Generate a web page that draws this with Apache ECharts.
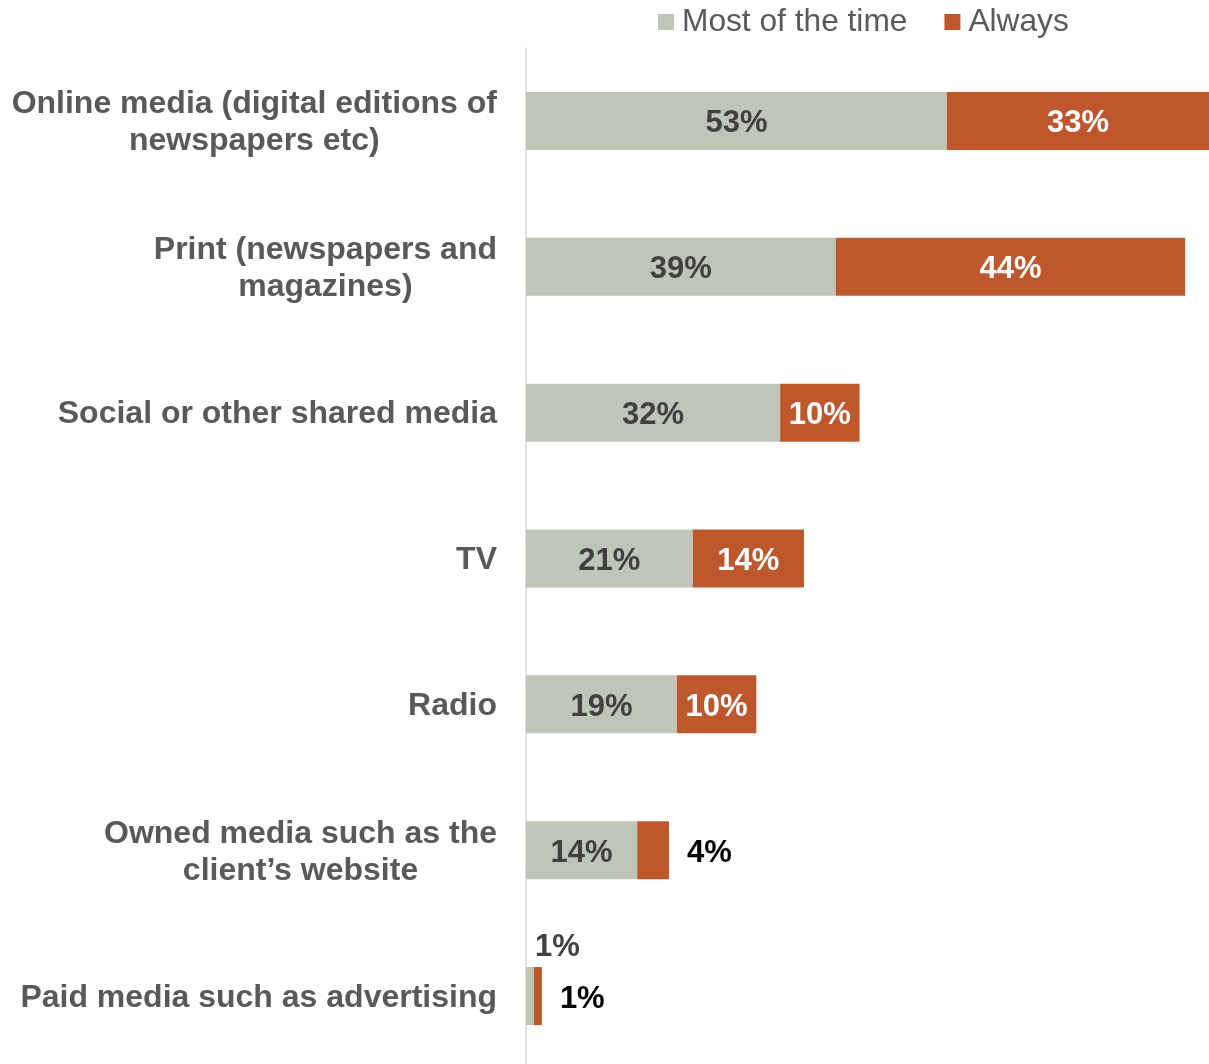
<!DOCTYPE html>
<html>
<head>
<meta charset="utf-8">
<style>
  html, body { margin: 0; padding: 0; background: #ffffff; overflow: hidden; }
  #chart { width: 1209px; height: 1069px; }
</style>
<script src="https://cdn.jsdelivr.net/npm/echarts@6/dist/echarts.min.js"></script>
</head>
<body>
<div id="chart"></div>
<script>
// Media channels, top to bottom
const categories = [
  'Online media (digital editions of\nnewspapers etc)',
  'Print (newspapers and\nmagazines)',
  'Social or other shared media',
  'TV',
  'Radio',
  'Owned media such as the\nclient\u2019s website',
  'Paid media such as advertising'
];
const seriesNames = ['Most of the time', 'Always'];
const mostOfTheTime = [53, 39, 32, 21, 19, 14, 1];
const always = [33, 44, 10, 14, 10, 4, 1];

const FONT = '"Liberation Sans", Arial, Helvetica, sans-serif';
const GREY = '#BFC5B8';
const ORANGE = '#BE582C';

const fmt = p => p.value + '%';

// Segments too narrow for an inside label get theirs placed outside
const greyData = mostOfTheTime.map(v => v < 3 ? {
  value: v,
  label: { position: 'top', align: 'left', distance: 4, offset: [5, 0] }
} : v);

const orangeData = always.map(v => v < 6 ? {
  value: v,
  label: { position: 'right', distance: 18, color: '#000000' }
} : v);

const chart = echarts.init(document.getElementById('chart'), null, { renderer: 'canvas' });

chart.setOption({
  animation: false,
  backgroundColor: '#ffffff',
  textStyle: { fontFamily: FONT },
  legend: {
    data: seriesNames,
    left: 658,
    top: 6,
    padding: 0,
    icon: 'rect',
    itemWidth: 16,
    itemHeight: 16,
    itemGap: 37,
    textStyle: {
      fontFamily: FONT,
      fontSize: 31.7,
      color: '#595959',
      padding: [0, 0, 0, 3]
    }
  },
  grid: {
    left: 526,
    top: 48,
    right: -2,
    bottom: 0,
    containLabel: false
  },
  xAxis: {
    type: 'value',
    min: 0,
    max: 86,
    show: false
  },
  yAxis: {
    type: 'category',
    data: categories,
    inverse: true,
    axisLine: { show: true, lineStyle: { color: '#D9D9D9', width: 1.5 } },
    axisTick: { show: false },
    splitLine: { show: false },
    axisLabel: {
      margin: 29,
      align: 'right',
      padding: [4, 0, 0, 0],
      fontFamily: FONT,
      fontSize: 32,
      fontWeight: 'bold',
      color: '#595959',
      lineHeight: 37,
      formatter: v => v.split('\n').map(s => '{c|' + s + '}').join('\n'),
      rich: {
        c: {
          align: 'center',
          fontFamily: FONT,
          fontSize: 32,
          fontWeight: 'bold',
          color: '#595959',
          lineHeight: 37
        }
      }
    }
  },
  series: [
    {
      name: seriesNames[0],
      type: 'bar',
      stack: 'total',
      barWidth: 58,
      itemStyle: { color: GREY },
      label: {
        show: true,
        position: 'inside',
        offset: [0, 3],
        formatter: fmt,
        fontFamily: FONT,
        fontSize: 31,
        fontWeight: 'bold',
        color: '#404040'
      },
      data: greyData
    },
    {
      name: seriesNames[1],
      type: 'bar',
      stack: 'total',
      barWidth: 58,
      itemStyle: { color: ORANGE },
      label: {
        show: true,
        position: 'inside',
        offset: [0, 3],
        formatter: fmt,
        fontFamily: FONT,
        fontSize: 31,
        fontWeight: 'bold',
        color: '#ffffff'
      },
      data: orangeData
    }
  ]
});
</script>
</body>
</html>
